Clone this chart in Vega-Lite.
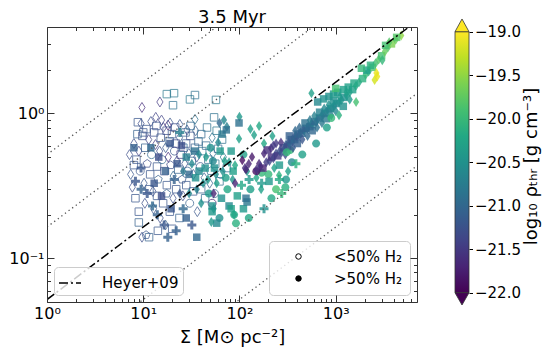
{
"$schema":"https://vega.github.io/schema/vega-lite/v6.json",
"padding":{"left":8,"top":8,"right":5,"bottom":5},
"bounds":"flush",
"spacing":38,
"resolve":{"scale":{"strokeDash":"independent","fill":"independent","color":"independent","shape":"independent"},"legend":{"strokeDash":"independent","fill":"independent"}},
"config":{"font":"DejaVu Sans","view":{"stroke":null},
"axis":{"labelFont":"DejaVu Sans","titleFont":"DejaVu Sans","titleFontWeight":"normal","labelColor":"black","titleColor":"black","grid":false},
"legend":{"labelFont":"DejaVu Sans","labelColor":"black"},
"title":{"font":"DejaVu Sans","fontWeight":"normal","color":"black"}},
"datasets":{
"lines":[{"g":"A","s":1,"v":0.0052},{"g":"A","s":7000,"v":0.435},{"g":"B","s":1,"v":0.01644},{"g":"B","s":7000,"v":1.3756},{"g":"C","s":1,"v":0.1644},{"g":"C","s":7000,"v":13.756},{"g":"D","s":1,"v":0.52},{"g":"D","s":7000,"v":43.5}],
"heyer":[{"s":1,"v":0.052,"lab":"Heyer+09"},{"s":7000,"v":4.351,"lab":"Heyer+09"}],
"h2":[{"lab":"<50% H₂"},{"lab":">50% H₂"}],
"cb":[{"lo":-22,"hi":-19}],
"tri":[{"p":"top","tx":0,"ty":-19,"ty2":-19},{"p":"top","tx":0.5,"ty":-18.854,"ty2":-19},{"p":"top","tx":1,"ty":-19,"ty2":-19},{"p":"bot","tx":0,"ty":-22,"ty2":-22},{"p":"bot","tx":0.5,"ty":-22.141,"ty2":-22},{"p":"bot","tx":1,"ty":-22,"ty2":-22}],
"pts":[
{"s":17.6,"v":1.36,"c":-20.8,"m":"s","h":0},{"s":20.9,"v":1.38,"c":-20.8,"m":"s","h":0},{"s":20.4,"v":1.14,"c":-20.9,"m":"s","h":0},{"s":30.6,"v":1.25,"c":-20.8,"m":"s","h":0},{"s":34.5,"v":1.34,"c":-20.9,"m":"s","h":0},{"s":57,"v":1.24,"c":-20.8,"m":"s","h":0},{"s":9.7,"v":1.1,"c":-21.6,"m":"d","h":0},{"s":14.9,"v":1.2,"c":-21.5,"m":"d","h":0},{"s":13.5,"v":0.94,"c":-21.4,"m":"d","h":0},{"s":18.1,"v":0.83,"c":-21.7,"m":"d","h":0},{"s":34.5,"v":0.91,"c":-20.9,"m":"d","h":0},{"s":28.5,"v":0.77,"c":-21.2,"m":"d","h":0},{"s":8.8,"v":0.87,"c":-21.2,"m":"s","h":0},{"s":10,"v":0.74,"c":-21.2,"m":"s","h":0},{"s":54.5,"v":0.94,"c":-20.9,"m":"s","h":0},{"s":52,"v":0.24,"c":-21.8,"m":"o","h":0},
{"s":8,"v":0.62,"c":-21.3,"m":"d","h":0},{"s":8.5,"v":0.48,"c":-21.2,"m":"s","h":0},{"s":9,"v":0.55,"c":-21.4,"m":"d","h":0},{"s":9.3,"v":0.4,"c":-21.2,"m":"o","h":0},{"s":9.8,"v":0.7,"c":-21.3,"m":"s","h":0},{"s":10.2,"v":0.33,"c":-21.2,"m":"d","h":0},{"s":10.5,"v":0.58,"c":-21.1,"m":"s","h":0},{"s":11,"v":0.45,"c":-21.3,"m":"p","h":0},{"s":11.4,"v":0.66,"c":-21.4,"m":"d","h":0},{"s":11.8,"v":0.38,"c":-21.2,"m":"s","h":0},{"s":12.2,"v":0.52,"c":-21,"m":"o","h":0},{"s":12.6,"v":0.29,"c":-21.3,"m":"d","h":0},{"s":13,"v":0.74,"c":-21.3,"m":"s","h":0},{"s":13.4,"v":0.61,"c":-21.5,"m":"d","h":0},{"s":13.9,"v":0.43,"c":-21.2,"m":"s","h":0},{"s":14.3,"v":0.35,"c":-21.1,"m":"p","h":0},{"s":14.8,"v":0.55,"c":-21.3,"m":"d","h":0},{"s":15.2,"v":0.68,"c":-21.2,"m":"s","h":0},{"s":15.7,"v":0.48,"c":-21,"m":"o","h":0},{"s":16.2,"v":0.8,"c":-21.4,"m":"d","h":0},{"s":16.6,"v":0.4,"c":-21.3,"m":"s","h":0},{"s":17.1,"v":0.58,"c":-21.2,"m":"d","h":0},{"s":17.6,"v":0.32,"c":-21.2,"m":"s","h":0},{"s":18.2,"v":0.5,"c":-21.6,"m":"d","h":0},{"s":18.8,"v":0.64,"c":-21.1,"m":"s","h":0},{"s":19.3,"v":0.44,"c":-21.3,"m":"p","h":0},{"s":19.9,"v":0.72,"c":-21.2,"m":"s","h":0},{"s":20.5,"v":0.37,"c":-21,"m":"d","h":0},{"s":21.1,"v":0.55,"c":-21.2,"m":"o","h":0},{"s":21.8,"v":0.62,"c":-21.4,"m":"s","h":0},{"s":22.4,"v":0.47,"c":-21.3,"m":"d","h":0},{"s":23.1,"v":0.41,"c":-21.1,"m":"s","h":0},{"s":23.8,"v":0.68,"c":-21.2,"m":"d","h":0},{"s":24.5,"v":0.52,"c":-21.5,"m":"s","h":0},{"s":25.3,"v":0.35,"c":-21.2,"m":"p","h":0},{"s":26.1,"v":0.58,"c":-21,"m":"s","h":0},{"s":27,"v":0.45,"c":-21.3,"m":"d","h":0},{"s":27.9,"v":0.62,"c":-21.2,"m":"s","h":0},{"s":28.8,"v":0.4,"c":-21.1,"m":"o","h":0},{"s":29.8,"v":0.53,"c":-21.2,"m":"d","h":0},{"s":30.9,"v":0.7,"c":-21.3,"m":"s","h":0},{"s":32,"v":0.47,"c":-21,"m":"s","h":0},{"s":33.2,"v":0.38,"c":-21.2,"m":"d","h":0},{"s":34.5,"v":0.58,"c":-21.1,"m":"s","h":0},{"s":36,"v":0.5,"c":-21.3,"m":"d","h":0},{"s":37.5,"v":0.64,"c":-21,"m":"s","h":0},{"s":39.2,"v":0.43,"c":-21.2,"m":"o","h":0},{"s":41,"v":0.55,"c":-20.9,"m":"s","h":0},{"s":43,"v":0.36,"c":-21.1,"m":"d","h":0},{"s":45,"v":0.6,"c":-21,"m":"s","h":0},{"s":47.5,"v":0.48,"c":-20.9,"m":"s","h":0},{"s":50,"v":0.4,"c":-21,"m":"p","h":0},{"s":53,"v":0.53,"c":-20.9,"m":"d","h":0},{"s":56,"v":0.45,"c":-20.8,"m":"s","h":0},{"s":60,"v":0.57,"c":-21,"m":"s","h":0},{"s":64,"v":0.38,"c":-20.9,"m":"o","h":0},{"s":68,"v":0.5,"c":-20.8,"m":"d","h":0},{"s":74,"v":0.42,"c":-21,"m":"s","h":0},
{"s":9.5,"v":0.85,"c":-21.3,"m":"d","h":0},{"s":10.8,"v":0.78,"c":-21.2,"m":"s","h":0},{"s":12,"v":0.88,"c":-21.3,"m":"d","h":0},{"s":13.7,"v":0.82,"c":-21.2,"m":"s","h":0},{"s":15.5,"v":0.9,"c":-21.4,"m":"d","h":0},{"s":17.5,"v":0.76,"c":-21.3,"m":"s","h":0},{"s":19,"v":0.86,"c":-21.2,"m":"d","h":0},{"s":21.5,"v":0.8,"c":-21.3,"m":"s","h":0},{"s":24,"v":0.84,"c":-21.2,"m":"d","h":0},{"s":27.5,"v":0.74,"c":-21.1,"m":"s","h":0},{"s":31,"v":0.82,"c":-21,"m":"s","h":0},{"s":35,"v":0.76,"c":-21.1,"m":"d","h":0},{"s":40,"v":0.72,"c":-21,"m":"s","h":0},{"s":46,"v":0.8,"c":-20.9,"m":"s","h":0},{"s":52,"v":0.68,"c":-20.9,"m":"d","h":0},{"s":58,"v":0.76,"c":-20.8,"m":"s","h":0},{"s":66,"v":0.66,"c":-20.9,"m":"s","h":0},
{"s":7.4,"v":0.38,"c":-21.2,"m":"d","h":0},{"s":7.7,"v":0.31,"c":-21.3,"m":"d","h":0},{"s":8.3,"v":0.26,"c":-21.2,"m":"s","h":0},{"s":9,"v":0.21,"c":-21.2,"m":"s","h":0},{"s":9,"v":0.177,"c":-21.1,"m":"s","h":0},{"s":9.7,"v":0.14,"c":-21.3,"m":"d","h":0},{"s":10.7,"v":0.145,"c":-21.2,"m":"p","h":0},{"s":11.5,"v":0.14,"c":-21.1,"m":"s","h":0},{"s":10.4,"v":0.24,"c":-21.3,"m":"d","h":0},{"s":11.6,"v":0.3,"c":-21.2,"m":"s","h":0},{"s":12.8,"v":0.22,"c":-21.2,"m":"d","h":0},{"s":13.9,"v":0.27,"c":-21.2,"m":"s","h":0},{"s":15,"v":0.19,"c":-21.3,"m":"d","h":0},{"s":16.1,"v":0.24,"c":-21.2,"m":"s","h":0},{"s":17.5,"v":0.28,"c":-21.1,"m":"p","h":0},{"s":18.9,"v":0.21,"c":-21.2,"m":"s","h":0},{"s":20.4,"v":0.26,"c":-21.3,"m":"d","h":0},{"s":22,"v":0.3,"c":-21.2,"m":"s","h":0},{"s":23.8,"v":0.19,"c":-21.1,"m":"s","h":0},{"s":25.8,"v":0.27,"c":-21.3,"m":"d","h":0},{"s":28,"v":0.32,"c":-21.2,"m":"s","h":0},{"s":30.4,"v":0.24,"c":-21.1,"m":"o","h":0},{"s":33,"v":0.29,"c":-21.2,"m":"s","h":0},{"s":36.5,"v":0.21,"c":-21.2,"m":"d","h":0},{"s":40,"v":0.3,"c":-21.1,"m":"s","h":0},{"s":44,"v":0.26,"c":-21,"m":"s","h":0},{"s":49,"v":0.33,"c":-21.1,"m":"d","h":0},{"s":55,"v":0.28,"c":-21,"m":"o","h":0},{"s":62,"v":0.34,"c":-20.9,"m":"s","h":0},{"s":14.2,"v":0.155,"c":-21.2,"m":"s","h":0},{"s":17,"v":0.17,"c":-21.1,"m":"d","h":0},{"s":20,"v":0.16,"c":-21.2,"m":"s","h":0},{"s":8,"v":0.44,"c":-21.2,"m":"s","h":0},{"s":8.7,"v":0.72,"c":-21.1,"m":"s","h":0},{"s":7.2,"v":0.52,"c":-21.3,"m":"d","h":0},
{"s":8,"v":0.58,"c":-21.1,"m":"s","h":1},{"s":12,"v":0.58,"c":-21,"m":"s","h":1},{"s":8.3,"v":0.34,"c":-21.2,"m":"P","h":1},{"s":9.5,"v":0.3,"c":-21.1,"m":"P","h":1},{"s":11,"v":0.28,"c":-21.2,"m":"P","h":1},{"s":12.5,"v":0.23,"c":-21,"m":"P","h":1},{"s":14,"v":0.2,"c":-21.1,"m":"P","h":1},{"s":16.5,"v":0.17,"c":-21.2,"m":"P","h":1},{"s":18,"v":0.14,"c":-21.1,"m":"P","h":1},{"s":13,"v":0.33,"c":-21.2,"m":"s","h":1},{"s":15.5,"v":0.27,"c":-21.3,"m":"s","h":1},{"s":19.5,"v":0.22,"c":-21.2,"m":"s","h":1},{"s":21,"v":0.35,"c":-21.1,"m":"P","h":1},{"s":24,"v":0.28,"c":-21.2,"m":"d","h":1},{"s":26,"v":0.22,"c":-21,"m":"P","h":1},{"s":28,"v":0.19,"c":-21.1,"m":"s","h":1},{"s":17,"v":0.4,"c":-21.1,"m":"s","h":1},{"s":22.5,"v":0.45,"c":-21.2,"m":"s","h":1},{"s":30,"v":0.38,"c":-21,"m":"s","h":1},{"s":25,"v":0.6,"c":-21.3,"m":"s","h":1},{"s":19,"v":0.62,"c":-21.2,"m":"s","h":1},{"s":34,"v":0.55,"c":-20.9,"m":"s","h":1},{"s":9.5,"v":0.42,"c":-21.2,"m":"P","h":1},{"s":14.5,"v":0.5,"c":-21.3,"m":"s","h":1},{"s":32,"v":0.17,"c":-21.2,"m":"P","h":1},{"s":22,"v":0.155,"c":-21.1,"m":"P","h":1},{"s":36,"v":0.14,"c":-21,"m":"s","h":1},{"s":24,"v":0.74,"c":-20.7,"m":"P","h":1},
{"s":69,"v":0.9,"c":-20.6,"m":"d","h":1},{"s":62,"v":0.86,"c":-21,"m":"d","h":1},{"s":74,"v":0.81,"c":-20.7,"m":"d","h":1},{"s":66,"v":0.72,"c":-20.8,"m":"s","h":1},{"s":99,"v":0.67,"c":-20.3,"m":"d","h":1},{"s":142,"v":0.71,"c":-20.3,"m":"d","h":1},{"s":160,"v":0.82,"c":-20.2,"m":"d","h":1},{"s":60,"v":0.63,"c":-20.6,"m":"d","h":1},{"s":50,"v":0.58,"c":-20.5,"m":"o","h":1},{"s":45,"v":0.5,"c":-20.4,"m":"d","h":1},{"s":55,"v":0.42,"c":-20.5,"m":"s","h":1},{"s":70,"v":0.47,"c":-20.3,"m":"d","h":1},{"s":82,"v":0.55,"c":-20.4,"m":"s","h":1},{"s":90,"v":0.44,"c":-20.2,"m":"d","h":1},{"s":110,"v":0.52,"c":-20.3,"m":"o","h":1},{"s":120,"v":0.4,"c":-20.4,"m":"d","h":1},{"s":38,"v":0.4,"c":-20.6,"m":"s","h":1},{"s":42,"v":0.33,"c":-20.5,"m":"d","h":1},{"s":48,"v":0.28,"c":-20.4,"m":"o","h":1},{"s":58,"v":0.33,"c":-20.3,"m":"d","h":1},{"s":65,"v":0.26,"c":-20.5,"m":"s","h":1},{"s":75,"v":0.3,"c":-20.2,"m":"o","h":1},{"s":85,"v":0.35,"c":-20.4,"m":"d","h":1},{"s":95,"v":0.27,"c":-20.3,"m":"s","h":1},{"s":105,"v":0.32,"c":-20.2,"m":"P","h":1},{"s":130,"v":0.3,"c":-20.3,"m":"o","h":1},{"s":150,"v":0.36,"c":-20.2,"m":"d","h":1},{"s":170,"v":0.33,"c":-20.4,"m":"P","h":1},{"s":200,"v":0.38,"c":-20,"m":"o","h":1},{"s":230,"v":0.42,"c":-20.3,"m":"d","h":1},{"s":260,"v":0.35,"c":-20.2,"m":"P","h":1},{"s":40,"v":0.24,"c":-20.5,"m":"d","h":1},{"s":52,"v":0.21,"c":-20.4,"m":"s","h":1},{"s":62,"v":0.19,"c":-20.5,"m":"o","h":1},{"s":78,"v":0.23,"c":-20.6,"m":"s","h":1},{"s":88,"v":0.2,"c":-20.3,"m":"d","h":1},{"s":110,"v":0.22,"c":-20.4,"m":"s","h":1},{"s":125,"v":0.19,"c":-20.2,"m":"o","h":1},{"s":54,"v":0.22,"c":-20.4,"m":"d","h":1},{"s":36,"v":0.3,"c":-20.7,"m":"d","h":1},{"s":52,"v":0.23,"c":-20.5,"m":"s","h":1},{"s":58,"v":0.175,"c":-20.6,"m":"s","h":1},{"s":51,"v":0.178,"c":-20.4,"m":"d","h":1},{"s":82,"v":0.22,"c":-20.3,"m":"s","h":1},{"s":92,"v":0.175,"c":-20.1,"m":"o","h":1},{"s":120,"v":0.245,"c":-20.8,"m":"s","h":1},{"s":88,"v":0.2,"c":-20.2,"m":"o","h":1},{"s":305,"v":0.35,"c":-20.4,"m":"o","h":1},{"s":350,"v":0.46,"c":-20.6,"m":"o","h":1},{"s":337,"v":0.56,"c":-20,"m":"o","h":1},{"s":240,"v":0.3,"c":-19.9,"m":"o","h":1},{"s":168,"v":0.3,"c":-20.3,"m":"d","h":1},{"s":126,"v":0.35,"c":-20.4,"m":"P","h":1},{"s":203,"v":0.34,"c":-20.4,"m":"s","h":1},{"s":170,"v":0.39,"c":-20,"m":"o","h":1},{"s":258,"v":0.375,"c":-20.1,"m":"d","h":1},{"s":117,"v":0.26,"c":-20.9,"m":"s","h":1},{"s":180,"v":0.22,"c":-20.5,"m":"P","h":1},{"s":215,"v":0.26,"c":-20.2,"m":"o","h":1},{"s":275,"v":0.28,"c":-20,"m":"P","h":1},{"s":300,"v":0.31,"c":-20.1,"m":"o","h":1},{"s":260,"v":0.44,"c":-20.4,"m":"s","h":1},{"s":320,"v":0.4,"c":-20.3,"m":"d","h":1},{"s":100,"v":0.95,"c":-20.4,"m":"d","h":1},{"s":130,"v":0.78,"c":-20.3,"m":"d","h":1},{"s":180,"v":0.62,"c":-20.2,"m":"d","h":1},{"s":220,"v":0.7,"c":-20.3,"m":"d","h":1},
{"s":32,"v":0.45,"c":-20.6,"m":"d","h":1},{"s":35,"v":0.36,"c":-20.5,"m":"s","h":1},{"s":38,"v":0.52,"c":-20.6,"m":"d","h":1},{"s":44,"v":0.42,"c":-20.5,"m":"s","h":1},{"s":47,"v":0.35,"c":-20.4,"m":"d","h":1},{"s":53,"v":0.47,"c":-20.6,"m":"o","h":1},{"s":57,"v":0.38,"c":-20.5,"m":"d","h":1},{"s":63,"v":0.55,"c":-20.4,"m":"s","h":1},{"s":67,"v":0.4,"c":-20.5,"m":"d","h":1},{"s":72,"v":0.36,"c":-20.3,"m":"o","h":1},{"s":78,"v":0.46,"c":-20.4,"m":"d","h":1},{"s":86,"v":0.4,"c":-20.3,"m":"s","h":1},{"s":28,"v":0.5,"c":-20.7,"m":"s","h":1},{"s":30,"v":0.28,"c":-20.6,"m":"d","h":1},{"s":26,"v":0.4,"c":-20.8,"m":"d","h":1},{"s":99,"v":0.86,"c":-20.9,"m":"s","h":1},{"s":73,"v":0.77,"c":-20.9,"m":"s","h":1},
{"s":135,"v":0.5,"c":-21.8,"m":"d","h":1},{"s":180,"v":0.53,"c":-21.7,"m":"d","h":1},{"s":213,"v":0.575,"c":-21.6,"m":"d","h":1},{"s":117,"v":0.41,"c":-21.8,"m":"d","h":1},{"s":150,"v":0.4,"c":-21.9,"m":"o","h":1},{"s":240,"v":0.62,"c":-21.5,"m":"d","h":1},{"s":270,"v":0.63,"c":-21.6,"m":"d","h":1},{"s":160,"v":0.45,"c":-21.7,"m":"d","h":1},{"s":107,"v":0.475,"c":-21.9,"m":"d","h":1},{"s":125,"v":0.45,"c":-21.7,"m":"d","h":1},{"s":54,"v":0.28,"c":-21.7,"m":"d","h":1},{"s":195,"v":0.56,"c":-21.6,"m":"s","h":1},{"s":225,"v":0.6,"c":-21.5,"m":"d","h":1},{"s":114,"v":0.42,"c":-21.6,"m":"d","h":1},{"s":90,"v":0.33,"c":-21.7,"m":"d","h":1},
{"s":150,"v":0.41,"c":-21.6,"m":"d","h":1},{"s":165,"v":0.43,"c":-21.5,"m":"d","h":1},{"s":175,"v":0.42,"c":-21.7,"m":"s","h":1},{"s":190,"v":0.46,"c":-21.5,"m":"d","h":1},{"s":205,"v":0.47,"c":-21.4,"m":"d","h":1},{"s":215,"v":0.5,"c":-21.6,"m":"s","h":1},{"s":225,"v":0.49,"c":-21.4,"m":"d","h":1},{"s":240,"v":0.53,"c":-21.3,"m":"d","h":1},{"s":250,"v":0.51,"c":-21.5,"m":"s","h":1},{"s":262,"v":0.55,"c":-21.3,"m":"d","h":1},{"s":275,"v":0.54,"c":-21.2,"m":"d","h":1},{"s":285,"v":0.58,"c":-21.4,"m":"s","h":1},{"s":295,"v":0.57,"c":-21.2,"m":"d","h":1},{"s":305,"v":0.61,"c":-21.1,"m":"d","h":1},{"s":315,"v":0.59,"c":-21.3,"m":"s","h":1},{"s":325,"v":0.63,"c":-21.2,"m":"d","h":1},{"s":335,"v":0.62,"c":-21,"m":"d","h":1},{"s":345,"v":0.66,"c":-21.2,"m":"s","h":1},{"s":355,"v":0.64,"c":-21.1,"m":"d","h":1},{"s":365,"v":0.68,"c":-21.2,"m":"d","h":1},{"s":375,"v":0.66,"c":-21,"m":"s","h":1},{"s":385,"v":0.7,"c":-21.1,"m":"d","h":1},{"s":395,"v":0.69,"c":-21.2,"m":"d","h":1},{"s":405,"v":0.72,"c":-21,"m":"s","h":1},{"s":415,"v":0.7,"c":-21.1,"m":"d","h":1},{"s":430,"v":0.74,"c":-21.2,"m":"d","h":1},{"s":445,"v":0.73,"c":-21,"m":"s","h":1},{"s":460,"v":0.77,"c":-21.1,"m":"d","h":1},{"s":475,"v":0.76,"c":-20.9,"m":"d","h":1},{"s":490,"v":0.79,"c":-21.1,"m":"s","h":1},{"s":505,"v":0.78,"c":-21,"m":"d","h":1},{"s":520,"v":0.82,"c":-20.9,"m":"d","h":1},{"s":540,"v":0.81,"c":-21,"m":"s","h":1},{"s":560,"v":0.85,"c":-20.9,"m":"d","h":1},{"s":580,"v":0.84,"c":-20.8,"m":"d","h":1},{"s":600,"v":0.88,"c":-21,"m":"s","h":1},{"s":625,"v":0.87,"c":-20.9,"m":"d","h":1},{"s":650,"v":0.91,"c":-20.8,"m":"d","h":1},{"s":680,"v":0.93,"c":-20.9,"m":"s","h":1},{"s":710,"v":0.96,"c":-20.8,"m":"d","h":1},{"s":740,"v":0.98,"c":-20.7,"m":"d","h":1},{"s":770,"v":1,"c":-20.8,"m":"s","h":1},{"s":800,"v":1.03,"c":-20.7,"m":"d","h":1},{"s":840,"v":1.05,"c":-20.6,"m":"d","h":1},{"s":880,"v":1.08,"c":-20.7,"m":"s","h":1},{"s":920,"v":1.1,"c":-20.6,"m":"d","h":1},{"s":970,"v":1.13,"c":-20.5,"m":"d","h":1},{"s":1020,"v":1.17,"c":-20.6,"m":"s","h":1},{"s":1080,"v":1.2,"c":-20.5,"m":"d","h":1},{"s":1150,"v":1.24,"c":-20.4,"m":"d","h":1},{"s":1220,"v":1.29,"c":-20.5,"m":"s","h":1},{"s":1300,"v":1.33,"c":-20.4,"m":"d","h":1},{"s":1400,"v":1.4,"c":-20.3,"m":"d","h":1},{"s":1500,"v":1.46,"c":-20.3,"m":"s","h":1},{"s":1620,"v":1.55,"c":-20.2,"m":"d","h":1},{"s":1750,"v":1.64,"c":-20.2,"m":"d","h":1},{"s":1900,"v":1.74,"c":-20.1,"m":"s","h":1},{"s":2050,"v":1.85,"c":-20,"m":"d","h":1},{"s":2200,"v":1.95,"c":-20.1,"m":"d","h":1},{"s":2400,"v":2.08,"c":-19.9,"m":"s","h":1},{"s":2600,"v":2.22,"c":-19.9,"m":"d","h":1},{"s":2800,"v":2.36,"c":-19.8,"m":"d","h":1},{"s":3000,"v":2.5,"c":-19.9,"m":"s","h":1},{"s":3250,"v":2.68,"c":-19.7,"m":"d","h":1},{"s":3500,"v":2.86,"c":-19.8,"m":"d","h":1},{"s":3800,"v":3.02,"c":-19.6,"m":"s","h":1},{"s":4200,"v":3.22,"c":-19.7,"m":"d","h":1},{"s":4800,"v":3.45,"c":-19.5,"m":"d","h":1},
{"s":300,"v":0.52,"c":-21.3,"m":"d","h":1},{"s":330,"v":0.7,"c":-21.1,"m":"s","h":1},{"s":360,"v":0.58,"c":-21.2,"m":"d","h":1},{"s":380,"v":0.76,"c":-21,"m":"d","h":1},{"s":400,"v":0.62,"c":-21.1,"m":"s","h":1},{"s":420,"v":0.8,"c":-21,"m":"d","h":1},{"s":450,"v":0.66,"c":-21.2,"m":"d","h":1},{"s":480,"v":0.86,"c":-20.9,"m":"s","h":1},{"s":510,"v":0.7,"c":-21,"m":"d","h":1},{"s":540,"v":0.9,"c":-20.8,"m":"d","h":1},{"s":570,"v":0.76,"c":-21,"m":"s","h":1},{"s":600,"v":0.96,"c":-20.7,"m":"d","h":1},{"s":640,"v":0.8,"c":-20.9,"m":"d","h":1},{"s":680,"v":1.02,"c":-20.7,"m":"s","h":1},{"s":720,"v":0.86,"c":-20.8,"m":"d","h":1},{"s":760,"v":1.08,"c":-20.6,"m":"d","h":1},{"s":800,"v":0.92,"c":-20.8,"m":"s","h":1},{"s":850,"v":1.15,"c":-20.5,"m":"d","h":1},{"s":900,"v":0.97,"c":-20.7,"m":"d","h":1},{"s":950,"v":1.22,"c":-20.5,"m":"s","h":1},{"s":1000,"v":1.04,"c":-20.6,"m":"d","h":1},{"s":1100,"v":1.3,"c":-20.4,"m":"d","h":1},{"s":1200,"v":1.12,"c":-20.5,"m":"s","h":1},{"s":1300,"v":1.4,"c":-20.3,"m":"d","h":1},{"s":1400,"v":1.25,"c":-20.4,"m":"d","h":1},
{"s":650,"v":1.2,"c":-20.6,"m":"s","h":1},{"s":750,"v":1.26,"c":-20.5,"m":"s","h":1},{"s":850,"v":1.31,"c":-20.5,"m":"s","h":1},{"s":950,"v":1.36,"c":-20.4,"m":"s","h":1},{"s":1050,"v":1.4,"c":-20.4,"m":"s","h":1},{"s":1200,"v":1.46,"c":-20.3,"m":"s","h":1},{"s":1350,"v":1.52,"c":-20.3,"m":"s","h":1},{"s":1550,"v":1.62,"c":-20.2,"m":"s","h":1},
{"s":560,"v":1.38,"c":-20.3,"m":"d","h":1},{"s":1630,"v":1.2,"c":-19.9,"m":"d","h":1},{"s":1084,"v":0.97,"c":-20.1,"m":"d","h":1},{"s":900,"v":0.93,"c":-20,"m":"o","h":1},{"s":1000,"v":1.49,"c":-19.9,"m":"s","h":1},{"s":2100,"v":1.99,"c":-20.3,"m":"s","h":1},{"s":1850,"v":2.05,"c":-20,"m":"s","h":1},{"s":2650,"v":1.9,"c":-19.1,"m":"d","h":1},{"s":2540,"v":1.7,"c":-19.2,"m":"d","h":1},{"s":2700,"v":1.8,"c":-19.1,"m":"d","h":1},{"s":3050,"v":2.33,"c":-20,"m":"d","h":1},{"s":2300,"v":2.15,"c":-20.1,"m":"s","h":1},{"s":3300,"v":2.95,"c":-19.9,"m":"s","h":1},{"s":3600,"v":3.1,"c":-19.8,"m":"d","h":1},{"s":4300,"v":3.35,"c":-19.8,"m":"s","h":1},{"s":626,"v":0.62,"c":-20.4,"m":"o","h":1},{"s":810,"v":0.8,"c":-20.3,"m":"o","h":1},{"s":310,"v":0.54,"c":-20,"m":"o","h":1},{"s":386,"v":0.45,"c":-20.1,"m":"P","h":1},{"s":450,"v":0.52,"c":-20.3,"m":"o","h":1}
]},
"hconcat":[
{"width":370,"height":275,
"title":{"text":"3.5 Myr","fontSize":18,"offset":0,"anchor":"middle"},
"resolve":{"axis":{"x":"independent","y":"independent"},"scale":{"fill":"independent"}},
"layer":[
{"data":{"name":"pts"},"transform":[{"filter":"datum.h==0"}],
"mark":{"type":"point","filled":false,"strokeWidth":1,"opacity":0.72,"size":100},
"encoding":{
"x":{"field":"s","type":"quantitative","scale":{"type":"log","domain":[1,7000],"nice":false},"axis":{"orient":"bottom","values":[1,2,3,4,5,6,7,8,9,10,20,30,40,50,60,70,80,90,100,200,300,400,500,600,700,800,900,1000,2000,3000,4000,5000,6000],"labelExpr":"datum.value==1?'10⁰':datum.value==10?'10¹':datum.value==100?'10²':datum.value==1000?'10³':''","tickSize":{"condition":{"test":"datum.value==1||datum.value==10||datum.value==100||datum.value==1000","value":-7},"value":-3.5},"labelFontSize":16,"labelPadding":10,"labelFlush":false,"labelOverlap":false,"domainColor":"#333","tickColor":"#333","title":"Σ [M⊙ pc⁻²]","titleFontSize":18,"titlePadding":4,"zindex":1}},
"y":{"field":"v","type":"quantitative","scale":{"type":"log","domain":[0.05,3.95],"nice":false},"axis":{"orient":"left","values":[0.05,0.06,0.07,0.08,0.09,0.1,0.2,0.3,0.4,0.5,0.6,0.7,0.8,0.9,1,2,3],"labelExpr":"datum.value==0.1?'10⁻¹':datum.value==1?'10⁰':''","tickSize":{"condition":{"test":"datum.value==0.1||datum.value==1","value":-7},"value":-3.5},"labelFontSize":16,"labelPadding":10,"labelFlush":false,"labelOverlap":false,"domainColor":"#333","tickColor":"#333","title":null,"zindex":1}},
"color":{"field":"c","type":"quantitative","scale":{"scheme":"viridis","domain":[-22,-19],"clamp":true},"legend":null},
"shape":{"field":"m","type":"nominal","scale":{"domain":["s","d","o","P","p"],"range":["M-0.75,-0.75L0.75,-0.75L0.75,0.75L-0.75,0.75Z","M0,-1L0.62,0L0,1L-0.62,0Z","M0.8,0A0.8,0.8,0,1,1,-0.8,0A0.8,0.8,0,1,1,0.8,0Z","M-0.3,-0.9L0.3,-0.9L0.3,-0.3L0.9,-0.3L0.9,0.3L0.3,0.3L0.3,0.9L-0.3,0.9L-0.3,0.3L-0.9,0.3L-0.9,-0.3L-0.3,-0.3Z","M0,-0.85L0.81,-0.26L0.5,0.69L-0.5,0.69L-0.81,-0.26Z"]},"legend":null}}},
{"data":{"name":"pts"},"transform":[{"filter":"datum.h==1"}],
"mark":{"type":"point","filled":true,"strokeWidth":0,"opacity":0.8,"size":100},
"encoding":{
"x":{"field":"s","type":"quantitative","scale":{"type":"log","domain":[1,7000],"nice":false},"axis":{"orient":"top","values":[1,2,3,4,5,6,7,8,9,10,20,30,40,50,60,70,80,90,100,200,300,400,500,600,700,800,900,1000,2000,3000,4000,5000,6000],"labels":false,"tickSize":{"condition":{"test":"datum.value==1||datum.value==10||datum.value==100||datum.value==1000","value":-7},"value":-3.5},"domainColor":"#333","tickColor":"#333","title":null,"zindex":1}},
"y":{"field":"v","type":"quantitative","scale":{"type":"log","domain":[0.05,3.95],"nice":false},"axis":{"orient":"right","values":[0.05,0.06,0.07,0.08,0.09,0.1,0.2,0.3,0.4,0.5,0.6,0.7,0.8,0.9,1,2,3],"labels":false,"tickSize":{"condition":{"test":"datum.value==0.1||datum.value==1","value":-7},"value":-3.5},"domainColor":"#333","tickColor":"#333","title":null,"zindex":1}},
"color":{"field":"c","type":"quantitative","scale":{"scheme":"viridis","domain":[-22,-19],"clamp":true},"legend":null},
"shape":{"field":"m","type":"nominal","scale":{"domain":["s","d","o","P","p"],"range":["M-0.75,-0.75L0.75,-0.75L0.75,0.75L-0.75,0.75Z","M0,-1L0.62,0L0,1L-0.62,0Z","M0.8,0A0.8,0.8,0,1,1,-0.8,0A0.8,0.8,0,1,1,0.8,0Z","M-0.3,-0.9L0.3,-0.9L0.3,-0.3L0.9,-0.3L0.9,0.3L0.3,0.3L0.3,0.9L-0.3,0.9L-0.3,0.3L-0.9,0.3L-0.9,-0.3L-0.3,-0.3Z","M0,-0.85L0.81,-0.26L0.5,0.69L-0.5,0.69L-0.81,-0.26Z"]},"legend":null}}},
{"data":{"name":"lines"},
"mark":{"type":"line","clip":true,"color":"#555","strokeWidth":1.3,"strokeDash":[1.3,3.2]},
"encoding":{
"x":{"field":"s","type":"quantitative","scale":{"type":"log","domain":[1,7000],"nice":false},"axis":null},
"y":{"field":"v","type":"quantitative","scale":{"type":"log","domain":[0.05,3.95],"nice":false},"axis":null},
"detail":{"field":"g","type":"nominal"}}},
{"data":{"name":"heyer"},
"mark":{"type":"line","clip":true,"color":"black","strokeWidth":1.5},
"encoding":{
"x":{"field":"s","type":"quantitative","scale":{"type":"log","domain":[1,7000],"nice":false},"axis":null},
"y":{"field":"v","type":"quantitative","scale":{"type":"log","domain":[0.05,3.95],"nice":false},"axis":null},
"strokeDash":{"field":"lab","type":"nominal","scale":{"domain":["Heyer+09"],"range":[[9,3,2,3]]},
"legend":{"title":null,"orient":"bottom-left","offset":7,"padding":4,"symbolSize":484,"symbolStrokeWidth":1.5,"symbolStrokeColor":"black","labelFontSize":15,"labelOffset":20,"fillColor":"rgba(255,255,255,0.8)","strokeColor":"#cccccc","cornerRadius":4}}}},
{"data":{"name":"h2"},
"mark":{"type":"point","filled":true,"opacity":0,"stroke":"black","strokeWidth":1},
"encoding":{
"x":{"datum":10,"type":"quantitative","scale":{"type":"log","domain":[1,7000],"nice":false},"axis":null},
"y":{"datum":1,"type":"quantitative","scale":{"type":"log","domain":[0.05,3.95],"nice":false},"axis":null},
"fill":{"field":"lab","type":"nominal","scale":{"domain":["<50% H₂",">50% H₂"],"range":["white","black"]},
"legend":{"title":null,"orient":"bottom-right","offset":7,"padding":8,"symbolType":"circle","symbolSize":30,"symbolOpacity":1,"symbolStrokeColor":"black","symbolStrokeWidth":1,"symbolOffset":14,"labelOffset":28,"rowPadding":6,"labelFontSize":15,"fillColor":"rgba(255,255,255,0.8)","strokeColor":"#cccccc","cornerRadius":4}}}}
]},
{"width":14,"height":278,
"layer":[
{"data":{"name":"cb"},
"mark":{"type":"rect","fill":{"gradient":"linear","x1":0,"y1":1,"x2":0,"y2":0,"stops":[{"offset":0,"color":"#440154"},{"offset":0.1,"color":"#482475"},{"offset":0.2,"color":"#414487"},{"offset":0.3,"color":"#355f8d"},{"offset":0.4,"color":"#2a788e"},{"offset":0.5,"color":"#21918c"},{"offset":0.6,"color":"#22a884"},{"offset":0.7,"color":"#44bf70"},{"offset":0.8,"color":"#7ad151"},{"offset":0.9,"color":"#bddf26"},{"offset":1,"color":"#fde725"}]},"stroke":"#333","strokeWidth":0.8},
"encoding":{
"x":{"datum":0,"type":"quantitative","scale":{"domain":[0,1]},"axis":null},
"x2":{"datum":1},
"y":{"field":"lo","type":"quantitative","scale":{"domain":[-22.141,-18.946],"nice":false,"zero":false},"axis":{"orient":"right","values":[-22,-21.5,-21,-20.5,-20,-19.5,-19],"format":".1f","tickSize":3.5,"tickColor":"black","domain":false,"labelFontSize":15,"labelPadding":2,"title":"log₁₀ ρₜₕᵣ [g cm⁻³]","titleAngle":270,"titleFontSize":18,"titlePadding":20}},
"y2":{"field":"hi"}}},
{"data":{"name":"tri"},"transform":[{"filter":"datum.p=='top'"}],
"mark":{"type":"area","color":"#fde725","stroke":"#333","strokeWidth":0.8},
"encoding":{
"x":{"field":"tx","type":"quantitative","scale":{"domain":[0,1]},"axis":null},
"y":{"field":"ty","type":"quantitative","scale":{"domain":[-22.141,-18.946],"nice":false,"zero":false}},
"y2":{"field":"ty2"}}},
{"data":{"name":"tri"},"transform":[{"filter":"datum.p=='bot'"}],
"mark":{"type":"area","color":"#440154","stroke":"#333","strokeWidth":0.8},
"encoding":{
"x":{"field":"tx","type":"quantitative","scale":{"domain":[0,1]},"axis":null},
"y":{"field":"ty","type":"quantitative","scale":{"domain":[-22.141,-18.946],"nice":false,"zero":false}},
"y2":{"field":"ty2"}}}
]}
]
}
